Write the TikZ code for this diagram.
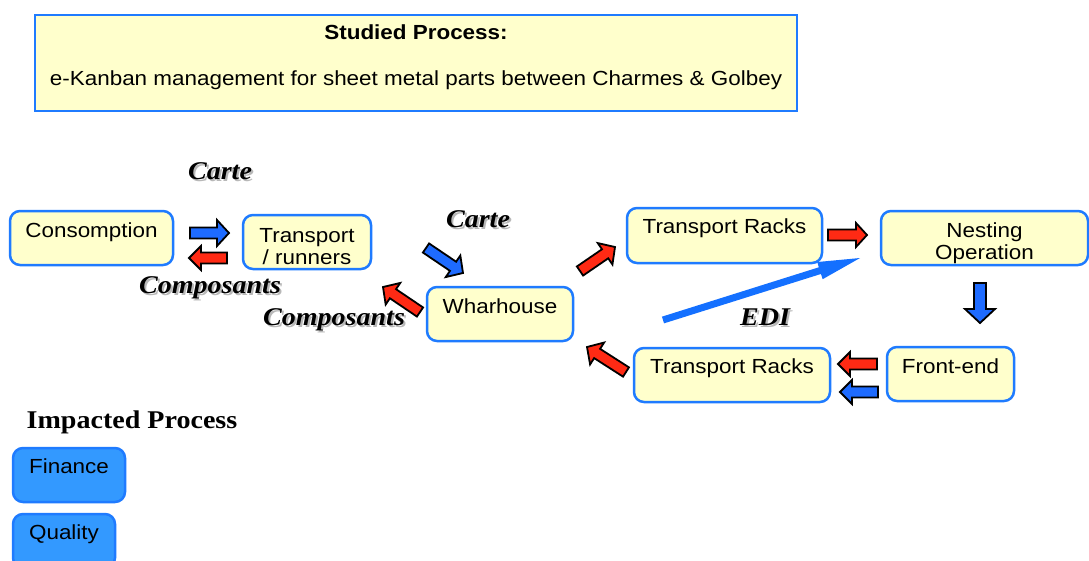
\documentclass[tikz,border=0pt]{standalone}
\usepackage{fontspec}
\setmainfont{Liberation Sans}[FakeStretch=1.1]
\newfontfamily\timesfont{Liberation Serif}[FakeStretch=1.1]
\definecolor{boxfill}{HTML}{FFFFCC}
\definecolor{boxline}{HTML}{1F7BFF}
\definecolor{arrred}{HTML}{FF2A14}
\definecolor{arrblue}{HTML}{1E6BFF}
\definecolor{edicol}{HTML}{1470FF}
\definecolor{impfill}{HTML}{3399FF}
\tikzset{
  box/.style={draw=boxline, line width=2.5, fill=boxfill, rounded corners=10,
    inner xsep=0, inner ysep=0, align=center,
    font=\fontsize{20.4}{21.5}\selectfont, text height=26, text depth=28},
  impbox/.style={box, fill=impfill, draw=boxline},
  lbl/.style={anchor=base, inner sep=0, font=\timesfont\bfseries\itshape\fontsize{25.5}{26}\selectfont},
  outlined/.style={draw=black, line width=1.8, line join=miter},
  plain/.style={draw=none},
}
% #1 style, #2 colour, #3,#4 from, #5,#6 to, #7 shaft half, #8 head half, #9 head length
\newcommand\barrow[9]{%
  \pgfmathsetmacro\bang{atan2(-(#6-#4),#5-#3)}%
  \pgfmathsetmacro\blen{veclen(#5-#3,#6-#4)}%
  \pgfmathsetmacro\bhb{\blen-#9}%
  \path[#1, fill=#2, shift={(#3,#4)}, rotate=\bang]
    (0,-#7) -- (\bhb,-#7) -- (\bhb,-#8) -- (\blen,0) -- (\bhb,#8) -- (\bhb,#7) -- (0,#7) -- cycle;}
\newcommand\shadowtext[4]{%
  \node[lbl, text=black!28] (#1s) at (#2+2,#3+2) {#4};
  \node[lbl] (#1) at (#2,#3) {#4};}
\begin{document}
\begin{tikzpicture}[x=1pt,y=-1pt]
\useasboundingbox (0,0) rectangle (1089,560);
\clip (0,0) rectangle (1089,560);
\fill[white] (0,0) rectangle (1089,560);

% studied process box
\node[draw=boxline, line width=2.5, fill=boxfill, minimum width=762, minimum height=96, inner sep=0] (top) at (416,63) {};
\node[anchor=base, inner sep=0, font=\fontsize{20.4}{21.5}\selectfont\bfseries] (studied) at (416,39) {Studied Process:};
\node[anchor=base, inner sep=0, font=\fontsize{20.4}{21.5}\selectfont] (ekanban) at (416,85) {e-Kanban management for sheet metal parts between Charmes \& Golbey};

% process boxes
\node[box, minimum width=163] (cons) at (91.5,238) {Consomption};
\node[box, minimum width=128, text height=49, text depth=5] (runners) at (307,242) {Transport\\[0.5pt]/ runners};
\node[box, minimum width=146] (whar) at (500,314) {Wharhouse};
\node[box, minimum width=195, text height=25, text depth=30] (trtop) at (724.5,235.5) {Transport Racks};
\node[box, minimum width=207, text height=48, text depth=6] (nest) at (984.5,238) {Nesting\\Operation};
\node[box, minimum width=127] (front) at (950.5,374) {Front-end};
\node[box, minimum width=196, text height=25, text depth=29] (trbot) at (732,375) {Transport Racks};

% labels
\shadowtext{carteA}{220}{179}{Carte}
\shadowtext{carteB}{478}{227}{Carte}
\shadowtext{compA}{210}{293}{Composants}
\shadowtext{compB}{334}{325}{Composants}
\shadowtext{edi}{765}{325}{EDI}

% block arrows
\barrow{outlined}{arrblue}{190}{233}{229}{233}{5.5}{13}{12}
\barrow{outlined}{arrred}{227}{258}{189}{258}{5.5}{12}{12}
\barrow{outlined}{arrblue}{426}{248}{463}{273}{5.5}{13}{12}
\barrow{outlined}{arrred}{420}{312}{383}{287}{5.5}{13}{12}
\barrow{outlined}{arrred}{580}{271}{615}{247}{5.5}{13}{12}
\barrow{outlined}{arrred}{828}{235}{867}{235}{5.5}{12}{11}
\barrow{outlined}{arrblue}{980}{283}{980}{323}{6}{15}{14}
\barrow{outlined}{arrred}{877}{364}{838}{364}{5.5}{12}{12}
\barrow{outlined}{arrblue}{878}{392}{840}{392}{5.5}{12}{12}
\barrow{outlined}{arrred}{626}{372}{587}{347}{5.5}{13}{12}
\barrow{plain}{edicol}{663}{320}{860}{258}{3.5}{9}{42}

% impacted process
\node[anchor=base, inner sep=0, font=\timesfont\bfseries\fontsize{25.5}{26}\selectfont] (impacted) at (132,428) {Impacted Process};
\node[impbox, minimum width=112, text height=25, text depth=29] (finance) at (69,475) {Finance};
\node[impbox, minimum width=102, text height=25, text depth=29] (quality) at (64,541) {Quality};
\end{tikzpicture}
\end{document}
